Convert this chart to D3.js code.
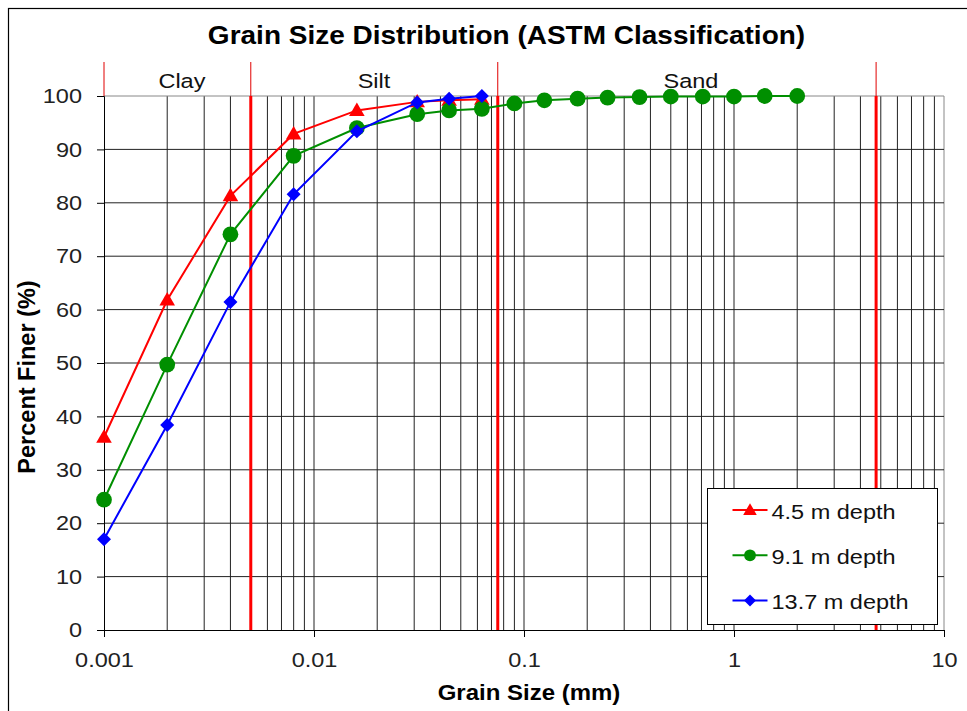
<!DOCTYPE html>
<html>
<head>
<meta charset="utf-8">
<script src="https://cdn.jsdelivr.net/npm/d3@7/dist/d3.min.js"></script>
<style>
  html, body { margin: 0; padding: 0; background: #fff; }
  svg { display: block; font-family: Arial, "Liberation Sans", sans-serif; }
</style>
</head>
<body>
<svg id="chart" width="967" height="711"></svg>
<script>
// Grain sizes (mm) — hydrometer readings then sieve readings
const hydroSizes = [0.001, 0.002, 0.004, 0.008, 0.016, 0.031, 0.044, 0.063];
const sieveSizes = [0.09, 0.125, 0.18, 0.25, 0.355, 0.5, 0.71, 1.0, 1.4, 2.0];

// Percent finer for each boring depth
const depth45 = [36.1, 61.8, 81.3, 92.9, 97.3, 98.9, 99.2, 99.4];
const depth91 = [24.4, 49.7, 74.1, 88.8, 94.0, 96.6, 97.3, 97.6,
                 98.6, 99.2, 99.5, 99.7, 99.8, 99.9, 99.9, 99.9, 100, 100];
const depth137 = [17.0, 38.4, 61.4, 81.6, 93.4, 98.8, 99.5, 100];

const seriesNames = ["4.5 m depth", "9.1 m depth", "13.7 m depth"];
const seriesColors = ["#ff0000", "#008f00", "#0000ff"];
const seriesMarkers = ["triangle", "circle", "diamond"];

// ASTM class boundaries (mm) and class names
const boundaries = [0.005, 0.075, 4.75];
const classNames = ["Clay", "Silt", "Sand"];
const classCenters = [0.00235, 0.0193, 0.624];

const yTicks = [0, 10, 20, 30, 40, 50, 60, 70, 80, 90, 100];
const xTicks = [0.001, 0.01, 0.1, 1, 10];

(function draw() {
  const svg = d3.select("#chart");
  const W = 967, H = 711;
  const pLeft = 104, pRight = 944, pTop = 96, pBottom = 630;
  const SQ = 0.89;           // glyphs are drawn slightly condensed vertically
  const FONT = "Arial, 'Liberation Sans', sans-serif";

  const x = d3.scaleLog().domain([0.001, 10]).range([pLeft, pRight]);
  const y = d3.scaleLinear().domain([0, 100]).range([pBottom, pTop]);

  // place a text with its baseline at (tx, ty), condensed vertically
  function label(parent, tx, ty, str, size, opts = {}) {
    return parent.append("text")
      .attr("transform", `translate(${tx},${ty}) scale(1,${SQ})`)
      .attr("text-anchor", opts.anchor || "middle")
      .attr("font-size", size)
      .attr("font-weight", opts.bold ? "bold" : "normal")
      .attr("fill", opts.fill || "#000")
      .text(str);
  }

  // outer chart frame
  svg.append("rect").attr("x", 8.5).attr("y", 8.5).attr("width", W + 10).attr("height", H + 10)
    .attr("fill", "#fff").attr("stroke", "#000").attr("stroke-width", 1.2);

  // title
  label(svg, 506.5, 43.5, "Grain Size Distribution (ASTM Classification)", 28, { bold: true });

  // vertical grid: every 1..9 within each decade
  const gridX = [];
  for (let e = -3; e <= 0; e++) for (let m = 1; m <= 9; m++) gridX.push(m * Math.pow(10, e));
  gridX.push(10);
  const g = svg.append("g");
  g.selectAll("line.vx").data(gridX.slice(1)).join("line")
    .attr("x1", d => x(d)).attr("x2", d => x(d)).attr("y1", pTop).attr("y2", pBottom)
    .attr("stroke", d => (d === 10 ? "#888" : "#222")).attr("stroke-width", 1);

  // horizontal grid
  g.selectAll("line.hy").data(yTicks.slice(1)).join("line")
    .attr("x1", pLeft).attr("x2", pRight).attr("y1", d => y(d)).attr("y2", d => y(d))
    .attr("stroke", d => (d === 100 ? "#888" : "#222")).attr("stroke-width", 1);

  // class boundaries: thick line in plot, thin marker above
  g.selectAll("line.bd").data(boundaries).join("line")
    .attr("x1", d => x(d)).attr("x2", d => x(d)).attr("y1", pTop).attr("y2", pBottom)
    .attr("stroke", "#ff0000").attr("stroke-width", 3);
  g.selectAll("line.bt").data([0.001].concat(boundaries)).join("line")
    .attr("x1", d => x(d)).attr("x2", d => x(d)).attr("y1", 62).attr("y2", pTop)
    .attr("stroke", "#e00000").attr("stroke-width", 1);
  classNames.forEach((n, i) => label(g, x(classCenters[i]), 87.5, n, 23.5, { fill: "#111" }));

  // axes
  const yAxis = d3.axisLeft(y).tickValues(yTicks).tickSize(7).tickPadding(15).tickFormat(d3.format("d"));
  const ya = svg.append("g").attr("transform", `translate(${pLeft},0)`).call(yAxis);
  ya.select(".domain").attr("stroke", "#000");
  ya.selectAll(".tick line").attr("stroke", "#000");
  ya.selectAll("text").attr("font-size", 23.5).attr("fill", "#222").attr("font-family", FONT)
    .attr("transform", `scale(1,${SQ})`);

  const xAxis = d3.axisBottom(x).tickValues(xTicks).tickSize(7).tickPadding(18).tickFormat(d => String(d));
  const xa = svg.append("g").attr("transform", `translate(0,${pBottom})`).call(xAxis);
  xa.select(".domain").attr("stroke", "#000");
  xa.selectAll(".tick line").attr("stroke", "#000");
  xa.selectAll("text").attr("font-size", 23.5).attr("fill", "#222").attr("font-family", FONT)
    .attr("transform", `scale(1,${SQ})`);

  // axis titles
  label(svg, 529, 700, "Grain Size (mm)", 24, { bold: true });
  svg.append("text").attr("transform", "translate(35,377) rotate(-90)").attr("text-anchor", "middle")
    .attr("font-size", 23.5).attr("font-weight", "bold").text("Percent Finer (%)");

  // marker shapes
  function markerPath(type) {
    if (type === "triangle") return d3.symbol(d3.symbolTriangle, 105)();
    if (type === "circle") return d3.symbol(d3.symbolCircle, 195)();
    return "M0,-7L7,0L0,7L-7,0Z";
  }

  const allSizes = hydroSizes.concat(sieveSizes);
  const seriesData = [depth45, depth91, depth137].map(vals => vals.map((v, i) => ({ s: allSizes[i], v })));
  const line = d3.line().x(d => x(d.s)).y(d => y(d.v));

  seriesData.forEach((data, i) => {
    const sg = svg.append("g");
    sg.append("path").datum(data).attr("d", line).attr("fill", "none")
      .attr("stroke", seriesColors[i]).attr("stroke-width", 2);
    sg.selectAll("path.m").data(data).join("path")
      .attr("transform", d => `translate(${x(d.s)},${y(d.v) + (seriesMarkers[i] === "triangle" ? 1 : 0)})`)
      .attr("d", markerPath(seriesMarkers[i])).attr("fill", seriesColors[i]);
  });

  // legend
  const lg = svg.append("g").attr("transform", "translate(707.5,488.5)");
  lg.append("rect").attr("width", 230).attr("height", 136).attr("fill", "#fff").attr("stroke", "#000").attr("stroke-width", 1);
  seriesNames.forEach((name, i) => {
    const cy = 21.5 + i * 45.3;
    lg.append("line").attr("x1", 25).attr("x2", 60).attr("y1", cy).attr("y2", cy)
      .attr("stroke", seriesColors[i]).attr("stroke-width", 2);
    const m = seriesMarkers[i];
    lg.append("path").attr("transform", `translate(42.5,${cy + (m === "triangle" ? 1 : 0)})`)
      .attr("d", m === "diamond" ? "M0,-6L6,0L0,6L-6,0Z" : (m === "circle" ? d3.symbol(d3.symbolCircle, 110)() : d3.symbol(d3.symbolTriangle, 80)()))
      .attr("fill", seriesColors[i]);
    label(lg, 64, cy + 8.5, name, 23.5, { anchor: "start", fill: "#111" });
  });
})();
</script>
</body>
</html>
